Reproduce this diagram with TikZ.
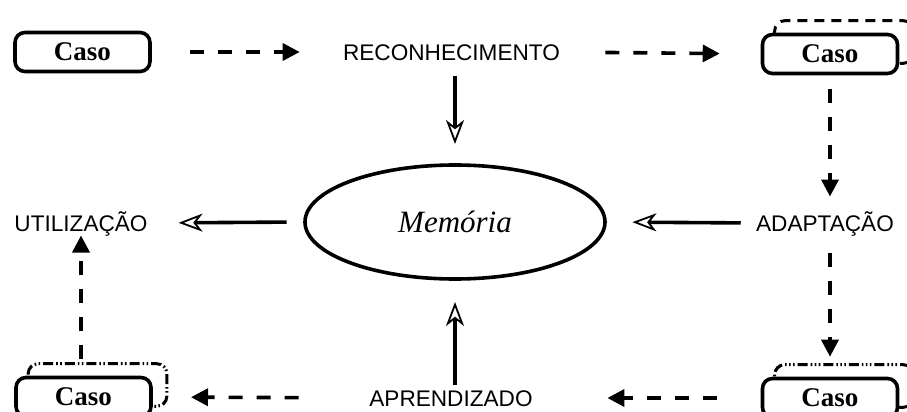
\documentclass[tikz,border=0pt]{standalone}
\usepackage{fontspec}
\setmainfont{Liberation Serif}
\setsansfont{Liberation Sans}
\usetikzlibrary{arrows.meta,shapes.geometric,backgrounds}

\begin{document}
\begin{tikzpicture}[x=0.5pt,y=-0.5pt,
  case node/.style={draw,fill=white,line width=1.8pt,rounded corners=5pt,
    minimum width=67.5pt,minimum height=19.5pt,inner sep=0pt,
    font=\fontsize{13.5}{15}\selectfont\bfseries},
  stage node/.style={inner sep=0pt,text height=8.1pt,text depth=0pt,
    font=\sffamily\fontsize{11.3}{13}\selectfont},
  memory node/.style={ellipse,draw,line width=1.8pt,minimum width=150pt,
    minimum height=57pt,inner sep=0pt,font=\fontsize{15.5}{18}\selectfont\itshape},
  dashed arrow/.style={line width=1.8pt,dash pattern=on 7pt off 7pt,
    -{Triangle[length=8.5pt,width=8.5pt]}},
  solid arrow/.style={line width=1.8pt,
    -{Stealth[open,length=12pt,width=9pt,inset=3.5pt,line width=0.9pt]}},
  case shadow/.style={line width=1.5pt,rounded corners=5pt}]

\useasboundingbox (0,0) rectangle (907,412);

\node[case node] (caso1) at (82.5,52) {Caso};
\node[stage node] (reconhecimento) at (451.5,52) {RECONHECIMENTO};
\node[case node] (caso2) at (830,54) {Caso};
\node[stage node] (adaptacao) at (825,223) {ADAPTAÇÃO};
\node[memory node] (memoria) at (455,222) {Memória};
\node[stage node] (utilizacao) at (81,223) {UTILIZAÇÃO};
\node[case node] (caso3) at (830,398) {Caso};
\node[stage node] (aprendizado) at (451,398) {APRENDIZADO};
\node[case node] (caso4) at (83.5,397) {Caso};

\begin{scope}[on background layer]
  \draw[case shadow,dash pattern=on 5pt off 3.5pt]
    ([shift={(14,-12)}]caso2.south west) rectangle ([shift={(14,-12)}]caso2.north east);
  \draw[case shadow,dash pattern=on 5pt off 1.5pt on 0.8pt off 1.2pt on 0.8pt off 1.2pt on 0.8pt off 1.5pt]
    ([shift={(14,-12)}]caso3.south west) rectangle ([shift={(14,-12)}]caso3.north east);
  \draw[case shadow,dash pattern=on 5pt off 1.5pt on 0.8pt off 1.2pt on 0.8pt off 1.5pt]
    ([shift={(14,-12)}]caso4.south west) rectangle ([shift={(14,-12)}]caso4.north east);
\end{scope}

\draw[dashed arrow,shorten <=19.3pt,shorten >=21.5pt] (caso1.east) -- (reconhecimento.west);
\draw[dashed arrow,shorten <=22.5pt,shorten >=20.5pt] (reconhecimento.east) -- (caso2.west);
\draw[dashed arrow,shorten <=6.8pt,shorten >=9pt] (caso2.south) -- (caso2.south |- adaptacao.north);
\draw[dashed arrow,shorten <=10.5pt,shorten >=10pt] (caso2.south |- adaptacao.south) -- (caso3.north);
\draw[solid arrow,shorten <=7.5pt,shorten >=12.8pt] (adaptacao.west) -- (memoria.east);
\draw[solid arrow,shorten <=8.3pt,shorten >=15.3pt] (memoria.west) -- (utilizacao.east);
\draw[solid arrow,shorten <=7.5pt,shorten >=9.6pt] (reconhecimento.south -| memoria.north) -- (memoria.north);
\draw[solid arrow,shorten <=2.5pt,shorten >=10.6pt] (aprendizado.north -| memoria.south) -- (memoria.south);
\draw[dashed arrow,shorten <=22pt,shorten >=37.2pt] (caso3.west) -- (aprendizado.east);
\draw[dashed arrow,shorten <=35.2pt,shorten >=19.1pt] (aprendizado.west) -- (caso4.east);
\draw[dashed arrow,shorten <=8.4pt,shorten >=2pt] (caso4.north -| utilizacao.south) -- (utilizacao.south);

\end{tikzpicture}
\end{document}
